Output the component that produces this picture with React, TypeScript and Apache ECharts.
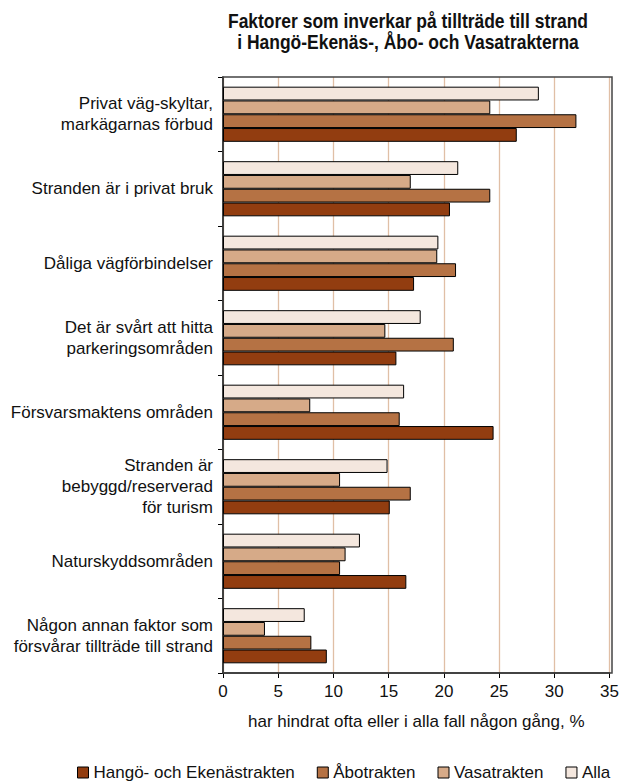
import React, { useEffect, useRef } from "react";
import * as echarts from "echarts";

const categories = [
  "Privat väg-skyltar,\nmarkägarnas förbud",
  "Stranden är i privat bruk",
  "Dåliga vägförbindelser",
  "Det är svårt att hitta\nparkeringsområden",
  "Försvarsmaktens områden",
  "Stranden är\nbebyggd/reserverad\nför turism",
  "Naturskyddsområden",
  "Någon annan faktor som\nförsvårar tillträde till strand",
];

const alla = [28.6, 21.3, 19.5, 17.9, 16.4, 14.9, 12.4, 7.4];
const vasa = [24.2, 17.0, 19.4, 14.7, 7.9, 10.6, 11.1, 3.8];
const abo = [32.0, 24.2, 21.1, 20.9, 16.0, 17.0, 10.6, 8.0];
const hango = [26.6, 20.55, 17.3, 15.7, 24.5, 15.1, 16.6, 9.4];

const seriesNames = ["Hangö- och Ekenästrakten", "Åbotrakten", "Vasatrakten", "Alla"];
const seriesColors = ["#923d10", "#b57244", "#d6aa88", "#f4e7de"];

const titleLines = [
  "Faktorer som inverkar på tillträde till strand",
  "i Hangö-Ekenäs-, Åbo- och Vasatrakterna",
];
const xAxisName = "har hindrat ofta eller i alla fall någon gång, %";

const FONT = "'Liberation Sans', Arial, Helvetica, sans-serif";

const GRID = { left: 223, right: 10, top: 77, bottom: 108 };
const W = 622;
const H = 781;

export default function App() {
  const ref = useRef<HTMLDivElement>(null);
  useEffect(() => {
    document.body.style.margin = "0";
    const chart = echarts.init(ref.current!, undefined, { renderer: "svg" });
    const mk = (name: string, data: number[], color: string) => ({
      name,
      type: "bar",
      data,
      barGap: "0%",
      barCategoryGap: "26%",
      itemStyle: { color, borderColor: "#000", borderWidth: 1 },
    });
    chart.setOption({
      animation: false,
      textStyle: { fontFamily: FONT },
      graphic: [
        ...titleLines.map((t, i) => ({
          type: "text",
          x: 408,
          y: 21 + i * 21.5,
          scaleX: 0.874,
          style: {
            text: t,
            font: `bold 20px ${FONT}`,
            fill: "#111",
            textAlign: "center",
            textVerticalAlign: "middle",
          },
        })),
        {
          type: "rect",
          z: 1,
          silent: true,
          shape: {
            x: GRID.left,
            y: GRID.top,
            width: W - GRID.left - GRID.right,
            height: H - GRID.top - GRID.bottom,
          },
          style: { fill: "none", stroke: "#444", lineWidth: 1.5 },
        },
      ],
      grid: { ...GRID, show: false },
      legend: {
        data: seriesNames,
        left: 72,
        top: 759,
        itemWidth: 11,
        itemHeight: 11,
        itemGap: 22,
        icon: "rect",
        itemStyle: { borderColor: "#000", borderWidth: 1 },
        textStyle: { fontSize: 17, color: "#111", fontFamily: FONT },
      },
      xAxis: {
        type: "value",
        min: 0,
        max: 35,
        interval: 5,
        name: xAxisName,
        nameLocation: "middle",
        nameGap: 40,
        nameTextStyle: { fontSize: 17, color: "#111", fontFamily: FONT },
        axisLine: { show: true, lineStyle: { color: "#000", width: 1.5 } },
        axisTick: { show: true, length: 5, lineStyle: { color: "#000" } },
        axisLabel: { fontSize: 17, color: "#111", margin: 10, fontFamily: FONT },
        splitLine: { show: true, lineStyle: { color: "#e0bfa6", width: 1.3 } },
      },
      yAxis: {
        type: "category",
        data: categories,
        inverse: true,
        axisLine: { show: true, lineStyle: { color: "#000", width: 1.5 } },
        axisTick: { show: true, length: 5, lineStyle: { color: "#000" } },
        axisLabel: {
          fontSize: 17,
          color: "#111",
          margin: 10,
          lineHeight: 21,
          align: "right",
          fontFamily: FONT,
        },
        splitLine: { show: false },
      },
      series: [
        mk(seriesNames[3], alla, seriesColors[3]),
        mk(seriesNames[2], vasa, seriesColors[2]),
        mk(seriesNames[1], abo, seriesColors[1]),
        mk(seriesNames[0], hango, seriesColors[0]),
      ],
    });
    return () => chart.dispose();
  }, []);
  return <div ref={ref} style={{ width: W, height: H }} />;
}
